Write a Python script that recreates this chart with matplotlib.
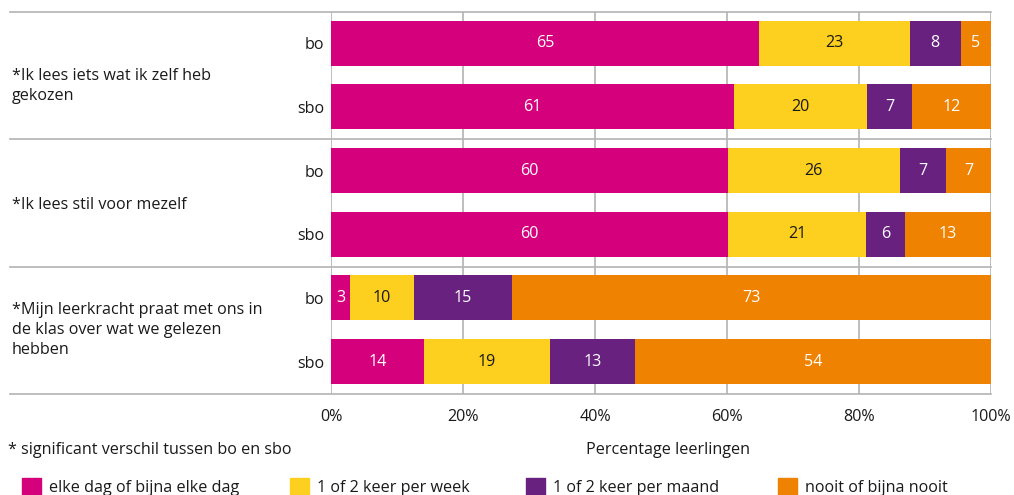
import matplotlib
matplotlib.use("Agg")
import matplotlib.pyplot as plt
from matplotlib.patches import Rectangle

plt.rcParams['font.family'] = ['Open Sans', 'DejaVu Sans']

# ---- data -------------------------------------------------------------
statements = [
    "*Ik lees iets wat ik zelf heb\ngekozen",
    "*Ik lees stil voor mezelf",
    "*Mijn leerkracht praat met ons in\nde klas over wat we gelezen\nhebben",
]
groups = ["bo", "sbo"]
categories = [
    "elke dag of bijna elke dag",
    "1 of 2 keer per week",
    "1 of 2 keer per maand",
    "nooit of bijna nooit",
]
# percentages per row (statement x group), order: bo, sbo per statement
elke_dag = [64.8, 61.1, 60.1, 60.1, 2.9, 14.1]
per_week = [22.9, 20.1, 26.1, 21.0, 9.7, 19.1]
per_maand = [7.7, 6.9, 7.0, 5.9, 14.8, 12.9]
nooit = [4.6, 11.9, 6.8, 13.0, 72.6, 53.9]
series = [elke_dag, per_week, per_maand, nooit]

x_ticks = [0, 20, 40, 60, 80, 100]
x_ticklabels = ["0%", "20%", "40%", "60%", "80%", "100%"]
x_label = "Percentage leerlingen"
footnote = "* significant verschil tussen bo en sbo"

colors = ["#d4007c", "#fdcf1f", "#68217f", "#ef8200"]
text_colors = ["white", "#1a1a1a", "white", "white"]

# ---- figure -----------------------------------------------------------
W, H = 1014, 495
fig = plt.figure(figsize=(W / 100, H / 100), dpi=100)

def fx(px):
    return px / W

def fy(py):
    return 1 - py / H

FS = 11.6

ax_left, ax_right, ax_top, ax_bottom = 331, 991, 12, 394
ax = fig.add_axes([fx(ax_left), fy(ax_bottom), fx(ax_right - ax_left),
                   (ax_bottom - ax_top) / H])

n_groups = len(statements)
row_pos = []
for g in range(n_groups):
    row_pos += [g + 0.245, g + 0.745]
bar_h = 45 / 127.3

grid_col = "#b3b3b3"
for xv in x_ticks:
    ax.axvline(xv, color=grid_col, lw=1.2, zorder=0)

left = [0.0] * len(row_pos)
for vals, col, tcol in zip(series, colors, text_colors):
    ax.barh(row_pos, vals, left=left, height=bar_h, color=col, zorder=2)
    for y, l, v in zip(row_pos, left, vals):
        ax.text(l + v / 2, y, f"{v:.0f}", ha="center", va="center",
                color=tcol, fontsize=FS, zorder=3)
    left = [a + b for a, b in zip(left, vals)]

ax.set_xlim(0, 100)
ax.set_ylim(n_groups, 0)

# separators between statements, running under the labels
for g in range(n_groups + 1):
    ax.axhline(g, xmin=-(ax_left - 10) / (ax_right - ax_left), xmax=1,
               color=grid_col, lw=1.2, clip_on=False, zorder=1)

ax.set_yticks(row_pos)
ax.set_yticklabels(groups * n_groups, fontsize=FS, color="#1a1a1a")
ax.tick_params(axis="y", length=0, pad=5)
ax.set_xticks(x_ticks)
ax.set_xticklabels(x_ticklabels, fontsize=FS, color="#1a1a1a")
ax.tick_params(axis="x", length=0, pad=11)
for s in ax.spines.values():
    s.set_visible(False)

# statement texts on the left
text_centres = [86, 205, 330]
for txt, cy in zip(statements, text_centres):
    fig.text(fx(12), fy(cy), txt, ha="left", va="center", fontsize=FS,
             color="#1a1a1a", linespacing=1.35)

fig.text(fx(8), fy(450), footnote, ha="left", va="center", fontsize=FS,
         color="#1a1a1a")
fig.text(fx(668), fy(450), x_label, ha="center", va="center", fontsize=FS,
         color="#1a1a1a")

# legend row along the bottom edge
leg_x = [22, 290, 526, 778]
for lx, lab, col in zip(leg_x, categories, colors):
    fig.patches.append(Rectangle((fx(lx), fy(497)), fx(19), (497 - 478) / H,
                                 transform=fig.transFigure, color=col))
    fig.text(fx(lx + 27), fy(488), lab, ha="left", va="center", fontsize=FS,
             color="#1a1a1a")

fig.savefig("out.png", dpi=100)
